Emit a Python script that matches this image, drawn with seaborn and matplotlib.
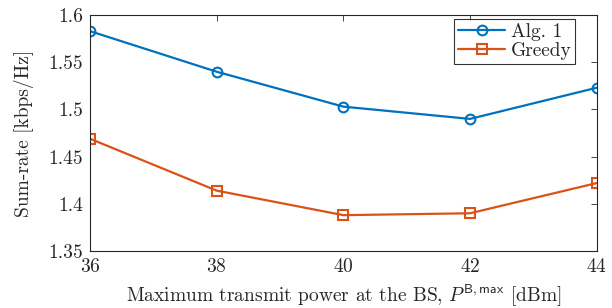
import pandas as pd
import matplotlib.pyplot as plt
import seaborn as sns

power_dbm = [36, 38, 40, 42, 44]
alg1 = [1.583, 1.540, 1.503, 1.490, 1.523]
greedy = [1.469, 1.414, 1.388, 1.390, 1.422]

df = pd.DataFrame({
    'power': power_dbm * 2,
    'rate': alg1 + greedy,
    'method': ['Alg. 1'] * len(alg1) + ['Greedy'] * len(greedy),
})

sns.set_theme(style='white')
plt.rcParams['font.family'] = ['cmr10', 'DejaVu Serif']
plt.rcParams['mathtext.fontset'] = 'cm'
plt.rcParams['axes.formatter.use_mathtext'] = True

fig, ax = plt.subplots(figsize=(6.12, 3.08), dpi=100)
palette = {'Alg. 1': '#0072BD', 'Greedy': '#D95319'}
sns.lineplot(data=df, x='power', y='rate', hue='method', style='method',
             markers={'Alg. 1': 'o', 'Greedy': 's'}, dashes=False,
             palette=palette, linewidth=1.6, markersize=7,
             markerfacecolor='none', markeredgewidth=1.5, ax=ax)
for line in ax.get_lines():
    line.set_markeredgecolor(line.get_color())
    line.set_markerfacecolor('none')

ax.set_xlim(36, 44)
ax.set_ylim(1.35, 1.6)
ax.set_xticks(power_dbm)
ax.set_yticks([1.35, 1.4, 1.45, 1.5, 1.55, 1.6])
ax.set_yticklabels(['1.35', '1.4', '1.45', '1.5', '1.55', '1.6'])
ax.tick_params(direction='in', top=True, right=True, length=4, width=0.6,
               labelsize=14, colors='#262626', pad=5)
for s in ax.spines.values():
    s.set_color('#262626')
    s.set_linewidth(0.8)

ax.set_xlabel(r'Maximum transmit power at the BS, $P^{\mathsf{B,max}}$ [dBm]',
              fontsize=14, color='#262626', labelpad=5)
ax.set_ylabel('Sum-rate [kbps/Hz]', fontsize=14, color='#262626', labelpad=10)

leg = ax.legend(loc='upper right', bbox_to_anchor=(0.958, 0.983), fontsize=14,
                frameon=True, fancybox=False, edgecolor='black', borderpad=0.2,
                handlelength=2.4, handletextpad=0.3, labelspacing=0.05,
                borderaxespad=0.0)
leg.get_frame().set_linewidth(0.8)
for h in leg.get_lines():
    h.set_markerfacecolor('none')
    h.set_markeredgecolor(h.get_color())

fig.subplots_adjust(left=0.147, right=0.975, top=0.951, bottom=0.185)
fig.savefig('out.png', dpi=100)
